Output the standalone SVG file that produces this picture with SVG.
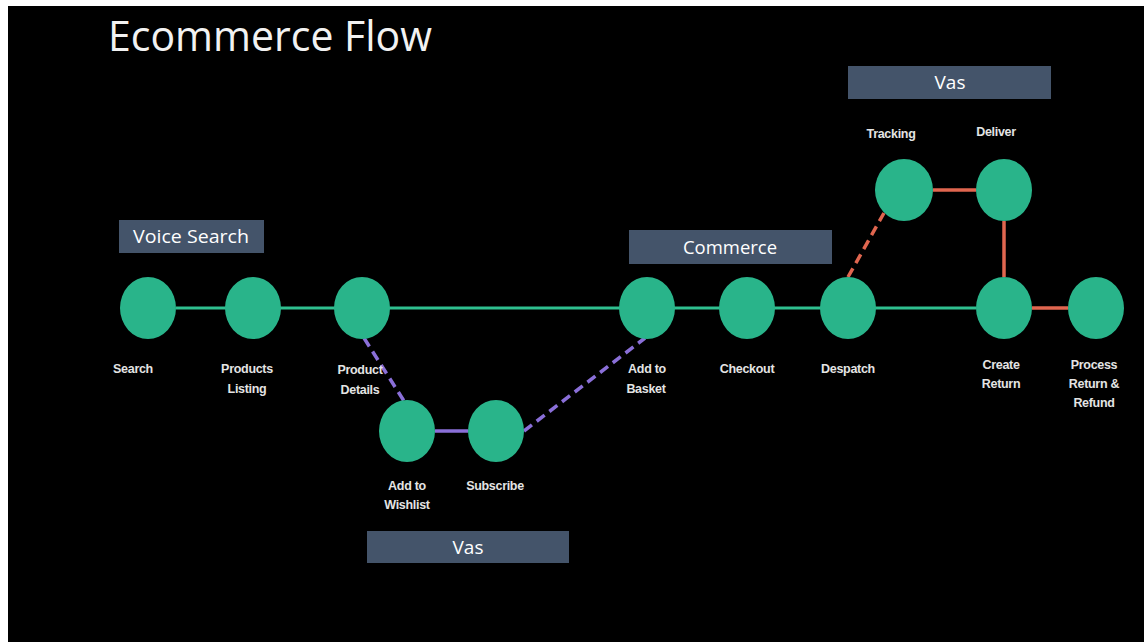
<svg xmlns="http://www.w3.org/2000/svg" width="1144" height="642" viewBox="0 0 1144 642">
<style>
.node{fill:#29b48a}
.lbl{font-family:"Liberation Sans",Arial,sans-serif;font-size:12.5px;fill:#e4e4e4;text-anchor:middle;font-weight:bold;letter-spacing:-0.3px}
.box{fill:#44546a}
.boxt{font-family:"Open Sans","Liberation Sans",sans-serif;font-size:19px;fill:#ffffff;text-anchor:middle}
.g{stroke:#2fbf8f;stroke-width:3;fill:none}
.p{stroke:#8a6fd8;stroke-width:3.5;fill:none}
.r{stroke:#e0664f;stroke-width:3.5;fill:none}
.d{stroke-dasharray:10 6}
</style>
<rect x="0" y="0" width="1144" height="642" fill="#ffffff"/>
<rect x="8" y="6" width="1136" height="636" fill="#000000"/>
<text x="108" y="51" font-family="'Open Sans','Liberation Sans',sans-serif" font-size="42" fill="#f2f2f2" textLength="324" lengthAdjust="spacingAndGlyphs">Ecommerce Flow</text>

<g id="labels-boxes">
<g id="box-voice"><rect class="box" x="119" y="220" width="145" height="33"/><text class="boxt" x="191" y="243" textLength="116" lengthAdjust="spacingAndGlyphs">Voice Search</text></g>
<g id="box-vas-bottom"><rect class="box" x="367" y="531" width="202" height="32"/><text class="boxt" x="468" y="554">Vas</text></g>
<g id="box-commerce"><rect class="box" x="629" y="230" width="203" height="34"/><text class="boxt" x="730" y="254" textLength="94" lengthAdjust="spacingAndGlyphs">Commerce</text></g>
<g id="box-vas-top"><rect class="box" x="848" y="66" width="203" height="33"/><text class="boxt" x="950" y="89">Vas</text></g>
</g>

<g id="connectors">
<line class="g" x1="176" y1="308" x2="976" y2="308"/>
<line class="p d" x1="364" y1="338" x2="404" y2="401"/>
<line class="p" x1="435" y1="431" x2="468" y2="431"/>
<line class="p d" x1="524" y1="431" x2="645" y2="338"/>
<line class="r d" x1="848" y1="277" x2="884" y2="213"/>
<line class="r" x1="933" y1="190" x2="976" y2="190"/>
<line class="r" x1="1004" y1="221" x2="1004" y2="277"/>
<line class="r" x1="1032" y1="308" x2="1068" y2="308"/>
</g>

<g id="n-search"><ellipse class="node" cx="148" cy="308" rx="28" ry="31"/><text class="lbl" x="133" y="373">Search</text></g>
<g id="n-listing"><ellipse class="node" cx="253" cy="308" rx="28" ry="31"/><text class="lbl" x="247" y="373">Products</text><text class="lbl" x="247" y="393">Listing</text></g>
<g id="n-details"><ellipse class="node" cx="362" cy="308" rx="28" ry="31"/><text class="lbl" x="360" y="374">Product</text><text class="lbl" x="360" y="394">Details</text></g>
<g id="n-wishlist"><ellipse class="node" cx="407" cy="431" rx="28" ry="31"/><text class="lbl" x="407" y="490">Add to</text><text class="lbl" x="407" y="509">Wishlist</text></g>
<g id="n-subscribe"><ellipse class="node" cx="496" cy="431" rx="28" ry="31"/><text class="lbl" x="495" y="490">Subscribe</text></g>
<g id="n-basket"><ellipse class="node" cx="647" cy="308" rx="28" ry="31"/><text class="lbl" x="647" y="373">Add to</text><text class="lbl" x="646" y="393">Basket</text></g>
<g id="n-checkout"><ellipse class="node" cx="747" cy="308" rx="28" ry="31"/><text class="lbl" x="747" y="373">Checkout</text></g>
<g id="n-despatch"><ellipse class="node" cx="848" cy="308" rx="28" ry="31"/><text class="lbl" x="848" y="373">Despatch</text></g>
<g id="n-tracking"><ellipse class="node" cx="904" cy="190" rx="29" ry="31"/><text class="lbl" x="891" y="138">Tracking</text></g>
<g id="n-deliver"><ellipse class="node" cx="1004" cy="190" rx="28" ry="31"/><text class="lbl" x="996" y="136">Deliver</text></g>
<g id="n-create-return"><ellipse class="node" cx="1004" cy="308" rx="28" ry="31"/><text class="lbl" x="1001" y="369">Create</text><text class="lbl" x="1001" y="388">Return</text></g>
<g id="n-process-return"><ellipse class="node" cx="1096" cy="308" rx="28" ry="31"/><text class="lbl" x="1094" y="369">Process</text><text class="lbl" x="1094" y="388">Return &amp;</text><text class="lbl" x="1094" y="407">Refund</text></g>
</svg>
